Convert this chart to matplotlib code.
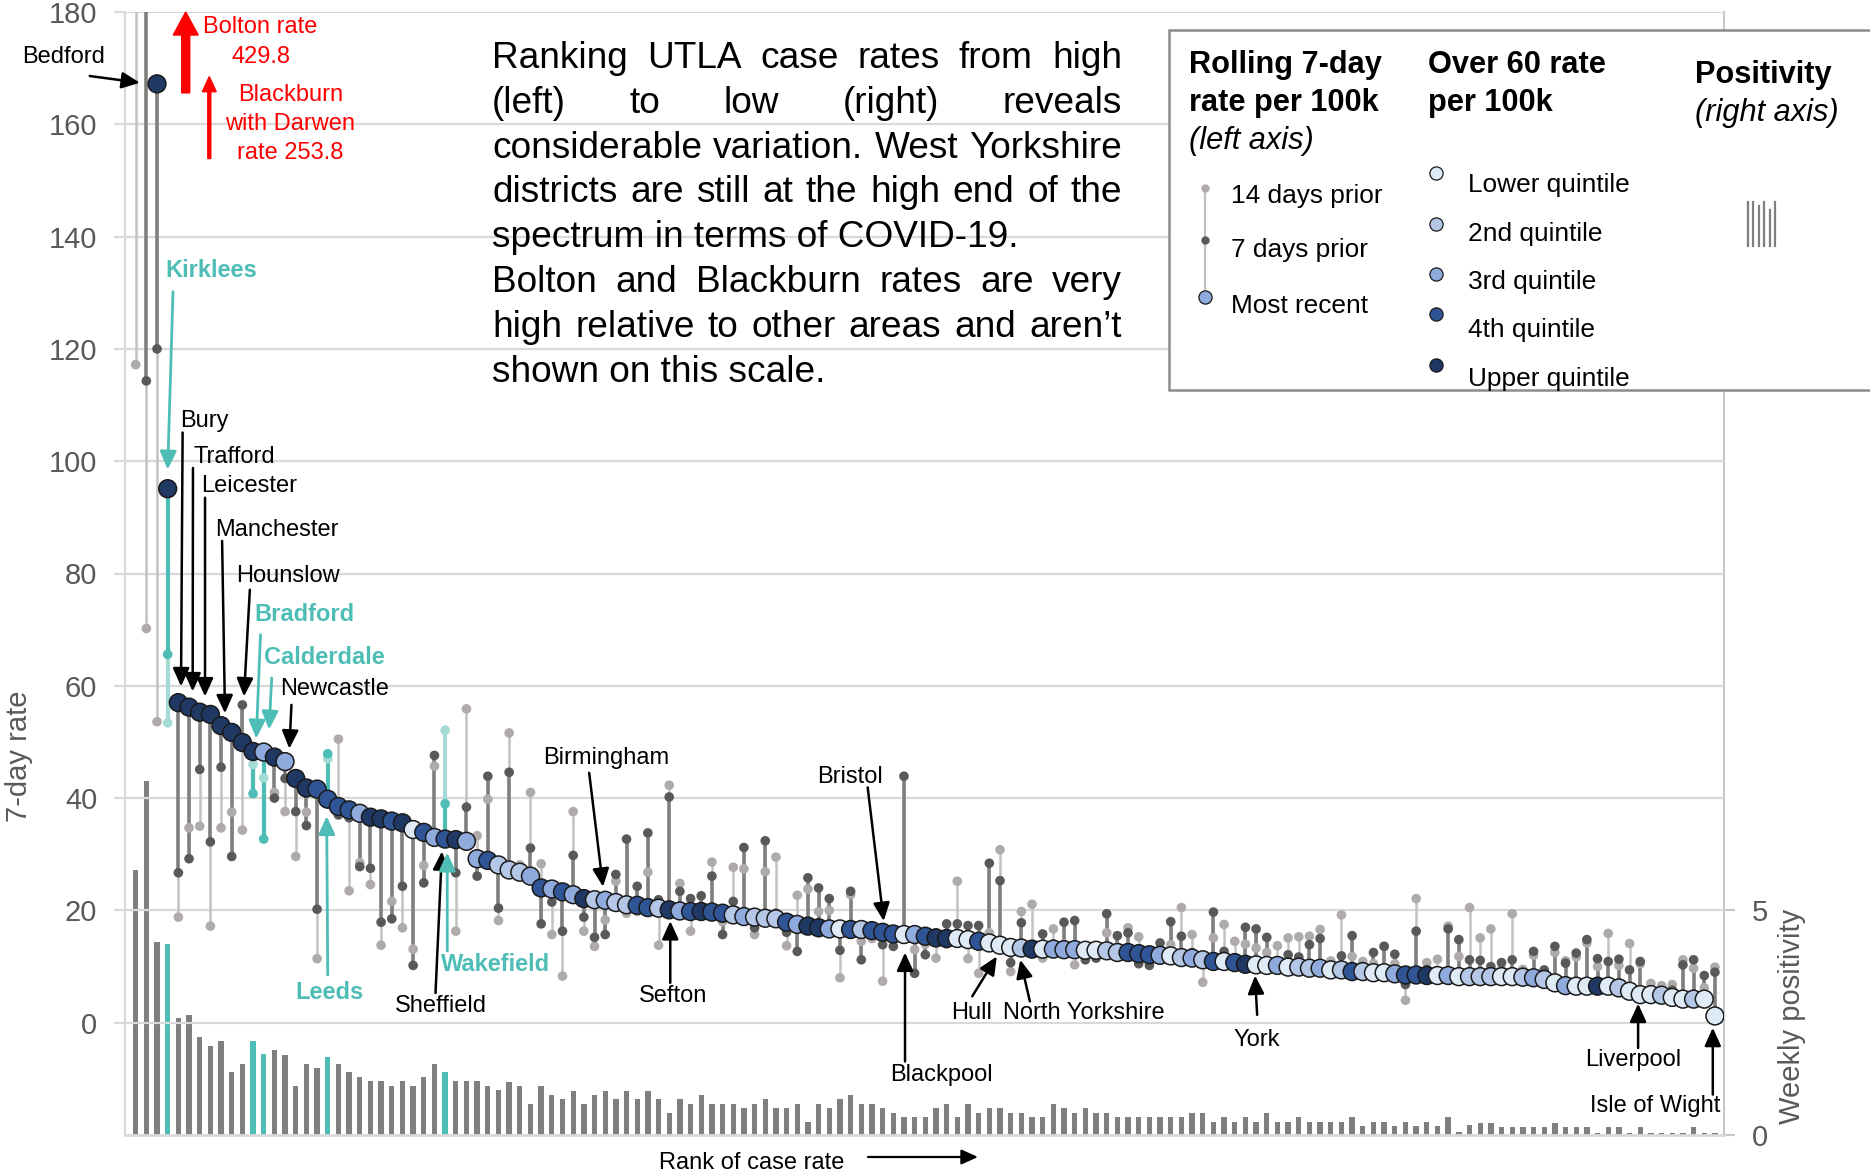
import numpy as np
import matplotlib
matplotlib.use("Agg")
import matplotlib.pyplot as plt
from matplotlib import font_manager
from matplotlib.lines import Line2D
from matplotlib.patches import Rectangle

plt.rcParams["font.family"] = ["Liberation Sans", "DejaVu Sans"]

# narrow font for the text boxes, if it is installed
_names = {f.name for f in font_manager.fontManager.ttflist}
if "Liberation Sans Narrow" in _names:
    NARROW = ["Liberation Sans Narrow", "Liberation Sans"]
    NS = 1.0
else:
    NARROW = ["Liberation Sans", "DejaVu Sans"]
    NS = 0.82

# ---------------- data (UTLAs ranked by most recent 7-day rate) ----------------
most_recent = [429.8, 253.8, 167.2, 95.1, 57.0, 56.2, 55.3, 54.9, 52.9, 51.7,
               49.9, 48.3, 48.2, 47.3, 46.5, 43.5, 41.8, 41.6, 39.8, 38.5,
               37.9, 37.3, 36.6, 36.3, 35.9, 35.6, 34.4, 33.9, 33.0, 32.7,
               32.6, 32.3, 29.2, 28.9, 28.1, 27.2, 26.8, 26.1, 24.0, 23.8,
               23.3, 22.8, 22.1, 21.9, 21.8, 21.4, 21.0, 20.9, 20.5, 20.4,
               20.1, 19.9, 19.8, 19.8, 19.7, 19.5, 19.2, 18.9, 18.8, 18.6,
               18.5, 17.9, 17.5, 17.2, 16.9, 16.7, 16.7, 16.6, 16.6, 16.4,
               16.1, 15.8, 15.7, 15.7, 15.4, 15.1, 15.0, 15.0, 14.8, 14.5,
               14.2, 13.8, 13.4, 13.3, 13.1, 13.1, 13.1, 13.0, 13.0, 12.9,
               12.9, 12.8, 12.5, 12.5, 12.3, 12.1, 12.0, 11.9, 11.6, 11.5,
               11.2, 10.9, 10.9, 10.7, 10.4, 10.3, 10.2, 10.2, 9.9, 9.9,
               9.7, 9.7, 9.4, 9.4, 9.1, 9.1, 8.9, 8.9, 8.7, 8.5,
               8.5, 8.4, 8.4, 8.4, 8.2, 8.2, 8.2, 8.2, 8.2, 8.2,
               8.1, 8.0, 7.7, 7.1, 6.6, 6.5, 6.5, 6.5, 6.5, 6.2,
               5.6, 5.0, 5.0, 4.9, 4.5, 4.2, 4.2, 4.2, 1.2]

days_7 = [250.0, 114.3, 120.0, 65.6, 26.7, 29.2, 45.1, 32.2, 45.5, 29.6,
          56.6, 40.8, 32.7, 40.0, 43.5, 37.6, 35.1, 20.2, 47.9, 37.0,
          36.5, 27.8, 27.5, 17.9, 18.5, 24.3, 10.2, 24.9, 47.6, 39.0,
          26.7, 38.4, 26.1, 43.9, 20.4, 44.6, 27.0, 31.1, 17.6, 21.5,
          16.3, 29.8, 18.8, 15.2, 15.7, 26.4, 32.7, 24.3, 33.8, 21.9,
          40.2, 23.4, 22.1, 22.6, 26.1, 15.7, 21.6, 31.2, 16.9, 32.4,
          19.5, 16.1, 12.7, 25.8, 24.0, 22.1, 12.9, 23.4, 11.2, 17.0,
          13.9, 13.6, 43.9, 8.8, 12.1, 16.0, 17.6, 17.6, 17.3, 17.3,
          28.4, 25.3, 10.7, 17.8, 13.5, 15.8, 14.0, 17.9, 18.2, 11.2,
          11.5, 19.4, 15.5, 16.0, 10.5, 10.2, 14.2, 18.0, 15.4, 12.5,
          11.8, 19.7, 12.7, 11.5, 17.0, 16.7, 15.2, 11.0, 12.1, 11.7,
          13.9, 15.0, 10.2, 11.9, 15.5, 10.0, 12.5, 13.6, 12.2, 6.8,
          16.3, 9.5, 9.0, 16.7, 14.8, 11.2, 11.1, 10.0, 10.7, 11.2,
          9.0, 12.7, 9.4, 13.6, 10.6, 12.4, 14.8, 11.4, 10.9, 11.3,
          9.4, 10.9, 5.8, 5.6, 5.8, 10.3, 11.2, 8.4, 9.0]

days_14 = [117.2, 70.2, 53.6, 53.4, 18.8, 34.7, 35.0, 17.2, 34.7, 37.5,
           34.3, 46.0, 43.6, 41.0, 37.6, 29.6, 37.5, 11.4, 47.0, 50.5,
           23.5, 28.5, 24.6, 13.8, 21.6, 16.9, 13.1, 28.0, 45.7, 52.1,
           16.3, 55.9, 33.3, 39.8, 18.2, 51.6, 28.1, 41.0, 28.3, 15.7,
           8.3, 37.6, 16.3, 13.6, 18.3, 25.2, 19.5, 19.8, 26.8, 13.8,
           42.3, 24.8, 16.3, 20.5, 28.6, 18.0, 27.7, 27.4, 15.7, 26.9,
           29.5, 13.7, 22.7, 23.8, 19.8, 20.0, 8.0, 22.8, 14.5, 15.0,
           7.4, 15.0, 15.0, 13.0, 14.0, 11.5, 14.0, 25.2, 11.4, 8.8,
           16.0, 30.8, 9.1, 19.8, 21.1, 11.5, 16.7, 14.0, 10.3, 13.0,
           12.0, 16.0, 13.5, 16.9, 15.3, 12.0, 13.0, 13.9, 20.5, 15.7,
           7.2, 15.1, 17.5, 14.5, 14.0, 13.3, 12.5, 13.7, 15.1, 15.3,
           15.4, 16.6, 11.0, 19.2, 11.8, 10.9, 10.5, 13.6, 10.5, 4.0,
           22.1, 10.7, 11.3, 17.2, 11.8, 20.5, 15.1, 16.7, 9.5, 19.4,
           9.5, 12.0, 9.0, 12.5, 11.0, 11.7, 14.2, 10.0, 15.9, 10.2,
           14.1, 10.5, 7.0, 6.6, 6.8, 11.2, 9.7, 6.2, 9.9]

# over-60 rate quintile, 1 = lower ... 5 = upper
quintile = [5, 5, 5, 5, 5, 5, 5, 5, 5, 5,
            5, 5, 3, 5, 3, 5, 5, 4, 4, 4,
            4, 3, 5, 5, 4, 5, 1, 4, 3, 4,
            5, 3, 3, 4, 2, 2, 2, 3, 4, 3,
            4, 3, 5, 2, 3, 2, 2, 4, 4, 2,
            5, 3, 4, 5, 4, 4, 2, 3, 2, 2,
            2, 4, 3, 5, 5, 3, 1, 4, 2, 4,
            4, 4, 1, 3, 4, 5, 5, 1, 1, 4,
            1, 1, 1, 2, 5, 1, 3, 3, 3, 1,
            1, 2, 2, 4, 4, 4, 3, 1, 2, 3,
            2, 4, 1, 4, 5, 1, 1, 3, 1, 2,
            2, 3, 1, 2, 4, 2, 1, 1, 3, 4,
            4, 5, 1, 3, 1, 2, 2, 2, 1, 1,
            2, 3, 2, 1, 3, 1, 1, 5, 1, 2,
            1, 1, 1, 2, 1, 1, 2, 1, 1]

positivity = [5.89, 7.88, 4.29, 4.25, 2.61, 2.68, 2.18, 1.99, 2.09, 1.40,
              1.59, 2.09, 1.80, 1.90, 1.79, 1.10, 1.59, 1.50, 1.74, 1.59,
              1.40, 1.30, 1.20, 1.20, 1.10, 1.20, 1.10, 1.30, 1.59, 1.40,
              1.20, 1.20, 1.20, 1.10, 1.00, 1.19, 1.08, 0.68, 1.08, 0.88,
              0.80, 0.99, 0.68, 0.88, 0.99, 0.80, 0.99, 0.80, 0.99, 0.80,
              0.48, 0.80, 0.68, 0.88, 0.68, 0.68, 0.68, 0.59, 0.68, 0.80,
              0.59, 0.59, 0.68, 0.28, 0.68, 0.59, 0.80, 0.88, 0.68, 0.68,
              0.59, 0.48, 0.39, 0.39, 0.39, 0.59, 0.68, 0.39, 0.68, 0.48,
              0.59, 0.59, 0.48, 0.48, 0.39, 0.39, 0.68, 0.59, 0.48, 0.59,
              0.48, 0.48, 0.39, 0.39, 0.39, 0.39, 0.39, 0.39, 0.39, 0.48,
              0.48, 0.28, 0.39, 0.28, 0.39, 0.28, 0.48, 0.28, 0.28, 0.39,
              0.28, 0.28, 0.28, 0.28, 0.39, 0.20, 0.28, 0.28, 0.20, 0.28,
              0.20, 0.28, 0.20, 0.39, 0.06, 0.22, 0.27, 0.27, 0.17, 0.17,
              0.17, 0.17, 0.17, 0.27, 0.17, 0.17, 0.17, 0.05, 0.17, 0.17,
              0.05, 0.17, 0.05, 0.05, 0.05, 0.05, 0.17, 0.05, 0.05]

west_yorkshire = [3, 11, 12, 18, 29]

quintile_names = ["Lower quintile", "2nd quintile", "3rd quintile",
                  "4th quintile", "Upper quintile"]
quintile_colors = ["#DEEBF7", "#B4C7E7", "#8FAADC", "#2F5597", "#203864"]

# callouts: label, index, tip dx, tip dy (from point), arrow tail, text pos, ha, west yorks?
callouts = [
    ("Kirklees", 3, 0.0, 3.4, (3.5, 130.2), (2.8, 134.0), "left", True),
    ("Bury", 4, 0.25, 2.9, (4.4, 105.1), (4.16, 107.2), "left", False),
    ("Trafford", 5, 0.34, 2.8, (5.37, 98.8), (5.46, 100.8), "left", False),
    ("Leicester", 6, 0.5, 2.8, (6.5, 93.5), (6.17, 95.5), "left", False),
    ("Manchester", 8, 0.37, 2.2, (8.1, 85.8), (7.4, 87.8), "left", False),
    ("Hounslow", 10, 0.15, 8.2, (10.7, 77.1), (9.4, 79.6), "left", False),
    ("Bradford", 11, 0.3, 2.3, (11.7, 69.1), (11.1, 72.7), "left", True),
    ("Calderdale", 12, 0.5, 4.0, (12.75, 61.4), (12.0, 65.0), "left", True),
    ("Newcastle", 14, 0.4, 2.3, (14.6, 56.6), (13.5, 59.5), "left", False),
    ("Leeds", 18, -0.1, -3.0, (18.0, 8.5), (18.2, 5.3), "center", True),
    ("Sheffield", 28, 0.7, -2.5, (28.1, 5.3), (28.6, 3.0), "center", False),
    ("Wakefield", 29, 0.2, -2.4, (29.2, 12.8), (33.7, 10.3), "center", True),
    ("Birmingham", 44, -0.2, 2.4, (42.5, 44.5), (44.1, 47.2), "center", False),
    ("Sefton", 50, 0.1, -2.0, (50.1, 7.1), (50.4, 4.8), "center", False),
    ("Bristol", 70, 0.1, 2.0, (68.6, 41.9), (66.9, 43.8), "center", False),
    ("Blackpool", 72, 0.1, -3.2, (72.1, -6.9), (75.5, -9.3), "center", False),
    ("Hull", 81, -0.3, -2.0, (78.4, 4.7), (78.3, 1.8), "center", False),
    ("North Yorkshire", 83, -0.1, -2.1, (83.8, 3.8), (88.9, 1.8), "center", False),
    ("York", 105, -0.1, -1.9, (105.1, 1.4), (105.1, -3.0), "center", False),
    ("Liverpool", 141, -0.2, -1.6, (140.8, -4.5), (140.3, -6.6), "center", False),
    ("Isle of Wight", 148, -0.2, -2.1, (147.8, -12.8), (142.4, -14.8), "center", False),
]

# ---------------- styling ----------------
TEAL = "#4DBDB6"
TEAL_LIGHT = "#A4DBD7"
GRID = "#D9D9D9"
LABEL = "#595959"

W_PX, H_PX = 1870, 1174


def fx(px):
    return px / W_PX


def fy(py):
    return 1 - py / H_PX


fig = plt.figure(figsize=(W_PX / 100, H_PX / 100), dpi=100)
ax = fig.add_axes([fx(125), fy(1135), (1724 - 125) / W_PX, (1135 - 12) / H_PX])
ax2 = ax.twinx()
ax.set_zorder(ax2.get_zorder() + 1)
ax.patch.set_visible(False)

x = np.arange(len(most_recent))
mr = np.array(most_recent)
d7 = np.array(days_7)
d14 = np.array(days_14)
wy = np.isin(x, west_yorkshire)

# positivity bars (right axis)
ax2.bar(x, positivity, width=0.5, color=np.where(wy, TEAL, "#7F7F7F"), zorder=2)
ax2.set_ylim(0, 25)
ax2.set_yticks([0, 5])
ax2.tick_params(axis="y", labelsize=21, labelcolor=LABEL, color="#C8C8C8",
                length=8, width=1.5, pad=12)
for s in ["top", "left", "bottom"]:
    ax2.spines[s].set_visible(False)
ax2.spines["right"].set_color("#C8C8C8")
ax2.spines["right"].set_linewidth(1.5)

# stems: 14 days prior -> 7 days prior (light), 7 days prior -> most recent (dark)
ax.vlines(x, d14, d7, colors=np.where(wy, TEAL_LIGHT, "#C3C3C3"),
          linewidths=np.where(wy, 3.0, 1.8), zorder=2)
ax.vlines(x, d7, mr, colors=np.where(wy, TEAL, "#7F7F7F"),
          linewidths=np.where(wy, 3.0, 2.6), zorder=2)
ax.scatter(x, d14, s=48, c=np.where(wy, TEAL_LIGHT, "#AFABAB"), linewidths=0, zorder=3)
ax.scatter(x, d7, s=48, c=np.where(wy, TEAL, "#595959"), linewidths=0, zorder=3)
ax.scatter(x, mr, s=165, c=[quintile_colors[q - 1] for q in quintile],
           edgecolors="#1A1A1A", linewidths=1.1, zorder=4)

ax.set_xlim(-1.0, 148.85)
ax.set_ylim(-20, 180)
ax.set_yticks(np.arange(0, 181, 20))
ax.set_xticks([])
ax.yaxis.grid(True, color=GRID, lw=1.6)
ax.set_axisbelow(True)
ax.tick_params(axis="y", labelsize=21, labelcolor=LABEL, color=GRID,
               length=8, width=1.5, pad=12)
ax.spines["top"].set_visible(False)
ax.spines["right"].set_visible(False)
ax.spines["left"].set_color(GRID)
ax.spines["left"].set_linewidth(1.6)
ax.spines["bottom"].set_color(GRID)
ax.spines["bottom"].set_linewidth(2.0)

# callouts
for label, i, dx, dy, tail, tpos, ha, is_wy in callouts:
    col = TEAL if is_wy else "black"
    ax.annotate("", xy=(i + dx, most_recent[i] + dy), xytext=tail,
                arrowprops=dict(arrowstyle="-|>,head_length=1.1,head_width=0.5",
                                color=col, lw=2.0 if is_wy else 1.8,
                                shrinkA=0, shrinkB=0, mutation_scale=10),
                annotation_clip=False, zorder=5)
    ax.text(tpos[0], tpos[1], label, ha=ha, va="center", fontsize=17, color=col,
            fontweight="bold" if is_wy else "normal", zorder=6)

# Bedford label (arrow as drawn in the original)
ax.annotate("", xy=(2 - 1.6, most_recent[2] + 0.2), xytext=(-4.3, 168.6),
            arrowprops=dict(arrowstyle="-|>,head_length=1.1,head_width=0.5",
                            color="black", lw=1.8, shrinkA=0, shrinkB=0,
                            mutation_scale=10), annotation_clip=False)
ax.text(-2.9, 172.0, "Bedford", ha="right", va="center", fontsize=17, color="black")

# off-scale values
ax.arrow(4.69, 165.6, 0, 180 - 165.6, width=0.75, head_width=2.34, head_length=4.1,
         length_includes_head=True, color="red", clip_on=False, zorder=5)
ax.text(11.7, 174.6, f"Bolton rate\n{most_recent[0]}", ha="center", va="center",
        fontsize=17, color="red", linespacing=1.45)
ax.arrow(6.9, 153.9, 0, 168.5 - 153.9, width=0.28, head_width=1.3, head_length=2.7,
         length_includes_head=True, color="red", clip_on=False, zorder=5)
ax.text(14.5, 160.1, f"Blackburn\nwith Darwen\nrate {most_recent[1]}", ha="center",
        va="center", fontsize=17, color="red", linespacing=1.4)

# axis titles
fig.text(fx(19), fy(756), "7-day rate", rotation=90, ha="center", va="center",
         fontsize=21, color=LABEL)
fig.text(fx(1792), fy(1016), "Weekly positivity", rotation=90, ha="center",
         va="center", fontsize=21, color=LABEL)
fig.text(fx(752), fy(1163), "Rank of case rate", ha="center", va="center",
         fontsize=17, color="black")
ax.annotate("", xy=(fx(978), fy(1157)), xytext=(fx(868), fy(1157)),
            xycoords="figure fraction", textcoords="figure fraction",
            arrowprops=dict(arrowstyle="-|>,head_length=1.0,head_width=0.45",
                            color="black", lw=1.6, shrinkA=0, shrinkB=0,
                            mutation_scale=10))

# ---------------- justified commentary ----------------
renderer = fig.canvas.get_renderer()
para = [("Ranking UTLA case rates from high", True),
        ("(left) to low (right) reveals", True),
        ("considerable variation. West Yorkshire", True),
        ("districts are still at the high end of the", True),
        ("spectrum in terms of COVID-19.", False),
        ("Bolton and Blackburn rates are very", True),
        ("high relative to other areas and aren\u2019t", True),
        ("shown on this scale.", False)]
PX0, PX1 = 492, 1122
psize = 32.5 * NS
for k, (line, just) in enumerate(para):
    base = 68 + 44.8 * k
    if not just:
        fig.text(fx(PX0), fy(base), line, fontsize=psize, family=NARROW,
                 va="baseline", ha="left")
        continue
    words = line.split()
    arts, widths = [], []
    for w in words:
        t = fig.text(0, fy(base), w, fontsize=psize, family=NARROW,
                     va="baseline", ha="left")
        arts.append(t)
        widths.append(t.get_window_extent(renderer).width)
    gap = (PX1 - PX0 - sum(widths)) / (len(words) - 1)
    pos = PX0
    for t, wdt in zip(arts, widths):
        t.set_x(fx(pos))
        pos += wdt + gap

# ---------------- legend box ----------------
fig.add_artist(Rectangle((fx(1169), fy(390)), fx(1885) - fx(1169), fy(30) - fy(390),
                         transform=fig.transFigure, facecolor="white",
                         edgecolor="#8C8C8C", lw=1.8, zorder=5))
tsize = 27 * NS
isize = 23 * NS
fig.text(fx(1189), fy(73), "Rolling 7-day", fontsize=tsize, family=NARROW,
         fontweight="bold", va="baseline", zorder=6)
fig.text(fx(1189), fy(111), "rate per 100k", fontsize=tsize, family=NARROW,
         fontweight="bold", va="baseline", zorder=6)
fig.text(fx(1189), fy(149), "(left axis)", fontsize=tsize, family=NARROW,
         style="italic", va="baseline", zorder=6)
fig.text(fx(1428), fy(73), "Over 60 rate", fontsize=tsize, family=NARROW,
         fontweight="bold", va="baseline", zorder=6)
fig.text(fx(1428), fy(111), "per 100k", fontsize=tsize, family=NARROW,
         fontweight="bold", va="baseline", zorder=6)
fig.text(fx(1695), fy(83), "Positivity", fontsize=tsize, family=NARROW,
         fontweight="bold", va="baseline", zorder=6)
fig.text(fx(1695), fy(121), "(right axis)", fontsize=tsize, family=NARROW,
         style="italic", va="baseline", zorder=6)

fig.add_artist(Line2D([fx(1204.5)] * 2, [fy(188), fy(297)], transform=fig.transFigure,
                      color="#BFBFBF", lw=1.6, zorder=6))
for py, mfc, ms, mec in [(188, "#AFABAB", 6, "none"), (240, "#595959", 6, "none"),
                         (297, quintile_colors[2], 9.5, "#1A1A1A")]:
    fig.add_artist(Line2D([fx(1204.5)], [fy(py)], transform=fig.transFigure, marker="o",
                          ms=ms, mfc=mfc, mec=mec, mew=0.9, ls="none", zorder=7))
for py, txt in [(203, "14 days prior"), (257, "7 days prior"), (313, "Most recent")]:
    fig.text(fx(1231), fy(py), txt, fontsize=isize, family=NARROW, va="baseline", zorder=6)

for py_dot, py_txt, name, col in zip([173, 224, 274, 314, 365],
                                     [192, 241, 289, 337, 386],
                                     quintile_names, quintile_colors):
    fig.add_artist(Line2D([fx(1435.5)], [fy(py_dot)], transform=fig.transFigure,
                          marker="o", ms=9.5, mfc=col, mec="#1A1A1A", mew=0.9,
                          ls="none", zorder=7))
    fig.text(fx(1468), fy(py_txt), name, fontsize=isize, family=NARROW,
             va="baseline", zorder=6)

# positivity legend glyph: a few small bars
for k, h in enumerate([44, 44, 40, 44, 36, 44]):
    px = 1748 + 5.4 * k
    fig.add_artist(Line2D([fx(px)] * 2, [fy(246), fy(246 - h)], transform=fig.transFigure,
                          color="#7F7F7F", lw=1.6, zorder=6))

fig.savefig("out.png", dpi=100)
